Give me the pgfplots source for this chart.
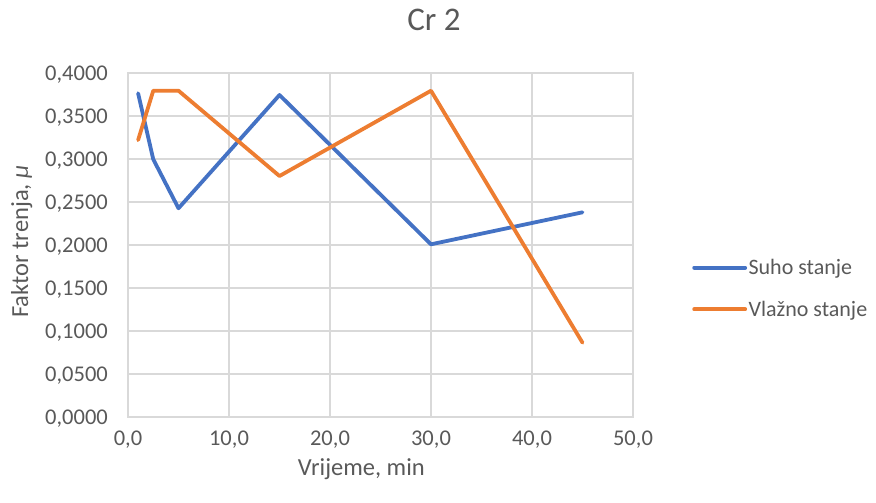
\documentclass[border=0pt]{standalone}
\usepackage{fontspec}
\setmainfont{Carlito}
\usepackage{pgfplots}
\pgfplotsset{compat=1.18}
\definecolor{sblue}{HTML}{4472C4}
\definecolor{sorange}{HTML}{ED7D31}
\definecolor{tgray}{HTML}{595959}
\definecolor{ggray}{HTML}{D9D9D9}
\begin{document}
\begin{tikzpicture}
\useasboundingbox (0bp,0bp) rectangle (876bp,503bp);
\node[anchor=base, text=tgray, font=\fontsize{33bp}{40bp}\selectfont, inner sep=0pt] at (434bp,472.3bp) {Cr 2};
\begin{axis}[
  at={(128bp,86bp)}, anchor=south west,
  scale only axis, width=505bp, height=344bp,
  xmin=0, xmax=50, ymin=0, ymax=0.4,
  xtick={0,10,20,30,40,50},
  ytick={0,0.05,0.1,0.15,0.2,0.25,0.3,0.35,0.4},
  grid=major,
  major grid style={ggray, line width=1.2bp},
  axis line style={ggray, line width=1.2bp},
  tick style={draw=none},
  /pgf/number format/assume math mode=true,
  scaled y ticks=false, scaled x ticks=false,
  ticklabel style={font=\fontsize{22.5bp}{26bp}\selectfont, text=tgray, inner sep=0pt},
  xticklabel style={anchor=base, yshift=-28bp, /pgf/number format/.cd, fixed, fixed zerofill, precision=1, use comma},
  yticklabel style={anchor=base east, xshift=-20bp, yshift=-7.5bp, /pgf/number format/.cd, fixed, fixed zerofill, precision=4, use comma},
  xlabel={Vrijeme, min},
  ylabel={Faktor trenja, \textit{μ}},
  label style={font=\fontsize{24.5bp}{28bp}\selectfont, text=tgray, inner sep=0pt},
  xlabel style={at={(rel axis cs:0.462,0)}, anchor=base, yshift=-58bp},
  ylabel style={at={(rel axis cs:-0.198,0.51)}, anchor=base, rotate=0},
  legend cell align=left,
  legend style={at={(rel axis cs:1.117,0.3735)}, anchor=west, draw=none, fill=none,
    font=\fontsize{22bp}{26bp}\selectfont, text=tgray, inner sep=0pt,
    row sep=22bp, nodes={inner sep=1.5bp}},
  legend image code/.code={\draw[#1] (0bp,0bp) -- (51bp,0bp);},
  every axis plot/.append style={line width=3.8bp, line join=round, line cap=round},
]
\addplot[sblue] coordinates {(1,0.3764) (2.5,0.2997) (5,0.2427) (15,0.3744) (30,0.2008) (45,0.2380)};
\addlegendentry{Suho stanje}
\addplot[sorange] coordinates {(1,0.3220) (2.5,0.3794) (5,0.3794) (15,0.2802) (30,0.3794) (45,0.0864)};
\addlegendentry{Vlažno stanje}
\end{axis}
\end{tikzpicture}
\end{document}
